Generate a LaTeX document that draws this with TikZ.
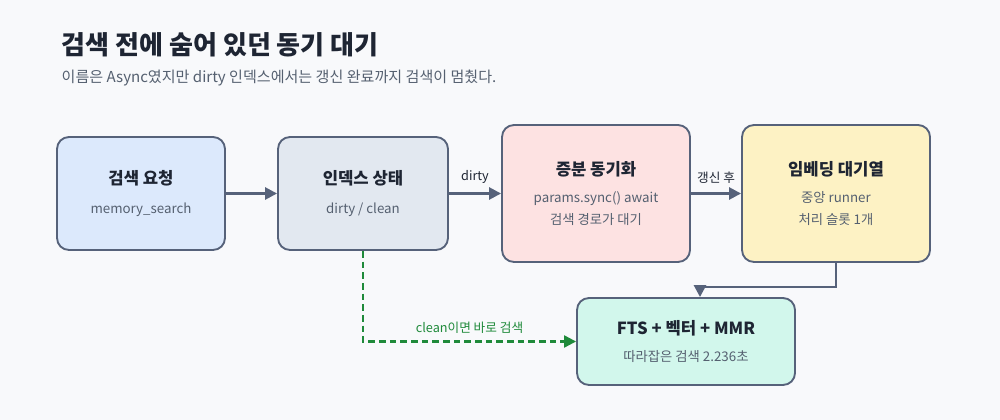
\documentclass[tikz,border=0pt]{standalone}
\usepackage{fontspec}
\setmainfont{Noto Sans CJK KR}
\usetikzlibrary{arrows.meta}
\definecolor{bg}{HTML}{F8F9FB}
\definecolor{edge}{HTML}{56627A}
\definecolor{ink}{HTML}{1E2533}
\definecolor{sub}{HTML}{556070}
\definecolor{cblue}{HTML}{DCE9FC}
\definecolor{cgray}{HTML}{E2E8F0}
\definecolor{cpink}{HTML}{FDE2E2}
\definecolor{cyel}{HTML}{FDF2C4}
\definecolor{cmint}{HTML}{D2F7EC}
\definecolor{cgreen}{HTML}{1F8A3A}
\tikzset{
  card/.style={draw=edge, line width=1.4pt, rounded corners=9pt, align=center, text=ink, inner sep=0pt},
  flow/.style={draw=edge, line width=2pt, -{Triangle[length=9pt,width=9pt]}},
  tag/.style={font=\fontsize{9.5}{11}\selectfont, text=ink}
}
\newcommand{\hd}[1]{{\fontsize{12.5}{15}\selectfont\bfseries #1}}
\newcommand{\sm}[1]{{\fontsize{10}{12}\selectfont\color{sub}#1}}
\begin{document}
\begin{tikzpicture}[x=0.75pt,y=-0.75pt]
  \fill[bg] (0,0) rectangle (1000,420);
  \useasboundingbox (0,0) rectangle (1000,420);

  % title
  \node[anchor=west, text=ink, font=\fontsize{19.5}{23}\selectfont\bfseries] (title) at (57,45) {검색 전에 숨어 있던 동기 대기};
  \node[anchor=west, text=sub, font=\fontsize{11.3}{14}\selectfont] (subtitle) at (57,78) {이름은 Async였지만 dirty 인덱스에서는 갱신 완료까지 검색이 멈췄다.};

  % cards
  \node[card, fill=cblue, minimum width=126pt, minimum height=84.75pt] (req) at (141,193.5) {\hd{검색 요청}\\[10pt]\sm{memory\_search}};
  \node[card, fill=cgray, minimum width=127.5pt, minimum height=84.75pt] (idx) at (363,193.5) {\hd{인덱스 상태}\\[10pt]\sm{dirty / clean}};
  \node[card, fill=cpink, minimum width=141pt, minimum height=102.75pt] (sync) at (596,193.5) {\hd{증분 동기화}\\[8pt]\sm{params.sync() await}\\[5pt]\sm{검색 경로가 대기}};
  \node[card, fill=cyel, minimum width=141pt, minimum height=102.75pt] (queue) at (836,193.5) {\hd{임베딩 대기열}\\[8pt]\sm{중앙 runner}\\[5pt]\sm{처리 슬롯 1개}};
  \node[card, fill=cmint, minimum width=163.5pt, minimum height=65.25pt] (search) at (686,341.5) {\hd{FTS + 벡터 + MMR}\\[8pt]\sm{따라잡은 검색 2.236초}};

  % connectors
  \draw[flow] (req) -- (idx);
  \draw[flow] (idx) -- node[tag, above=3pt] {dirty} (sync);
  \draw[flow] (sync) -- node[tag, above=3pt] {갱신 후} (queue);
  \coordinate (bend) at (700,287);
  \draw[flow] (queue.south) |- (bend) -- (search.north -| bend);
  \draw[draw=cgreen, line width=1.6pt, dash pattern=on 5pt off 3pt, -{Triangle[length=9pt,width=9pt]}]
    (idx.south) |- node[pos=0.75, above=2pt, text=cgreen, font=\fontsize{9.5}{11}\selectfont] {clean이면 바로 검색} (search.west);
\end{tikzpicture}
\end{document}
